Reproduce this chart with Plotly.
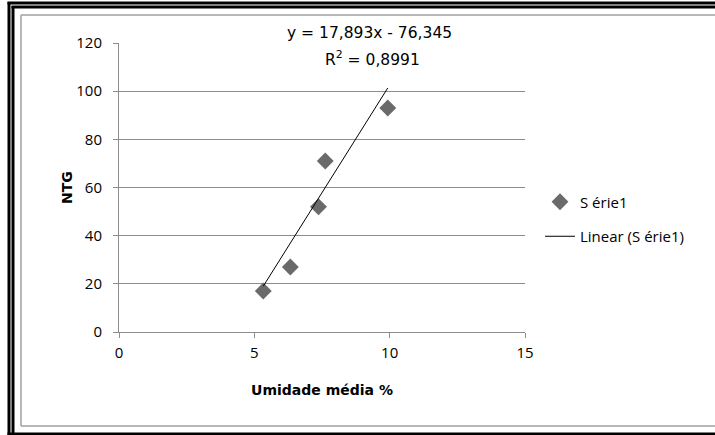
import plotly.graph_objects as go

# Data
umidade = [5.33, 6.33, 7.37, 7.62, 9.93]
ntg = [17, 27, 52, 71, 93]
trend_slope = 17.893
trend_intercept = -76.345
series_name = "S érie1"
trend_name = "Linear (S érie1)"
equation_text = "y = 17,893x - 76,345"
r2_text = "R<sup>2</sup> = 0,8991"
x_ticks = [0, 5, 10, 15]
y_ticks = [0, 20, 40, 60, 80, 100, 120]

W, H = 715, 435
L, R, T, B = 119, 190, 43, 103
PW, PH = W - L - R, H - T - B


def px_x(p):
    return (p - L) / PW


def px_y(p):
    return (H - B - p) / PH


xs = [min(umidade), max(umidade)]
ys = [trend_slope * v + trend_intercept for v in xs]

fig = go.Figure()
fig.add_trace(go.Scatter(
    x=umidade, y=ntg, mode="markers", name=series_name,
    legendgroup="a",
    marker=dict(symbol="diamond", size=13, color="#6a6a6a"),
))
fig.add_trace(go.Scatter(
    x=xs, y=ys, mode="lines", name=trend_name,
    legendgroup="b",
    line=dict(color="black", width=1),
))

gray = "#8c8c8c"
fig.update_xaxes(
    range=[0, 15], tickvals=x_ticks, showgrid=False, zeroline=False,
    showline=True, linecolor=gray, linewidth=1,
    ticks="outside", ticklen=5, tickcolor=gray, ticklabelstandoff=2,
    tickfont=dict(family="Open Sans", size=15, color="black"),
    title=dict(text="<b>Umidade média %</b>", standoff=24,
               font=dict(family="DejaVu Sans", size=14, color="black")),
)
fig.update_yaxes(
    range=[0, 120], tickvals=y_ticks, showgrid=True, gridcolor=gray,
    gridwidth=1, zeroline=False,
    showline=True, linecolor=gray, linewidth=1,
    ticks="outside", ticklen=5, tickcolor=gray, ticklabelstandoff=8,
    tickfont=dict(family="Open Sans", size=15, color="black"),
    title=dict(text="<b>NTG</b>", standoff=0,
               font=dict(family="DejaVu Sans", size=14, color="black")),
)

shapes = []
def hline(y, x0, x1, color, width):
    shapes.append(dict(type="line", xref="paper", yref="paper",
                       x0=px_x(x0), x1=px_x(x1), y0=px_y(y), y1=px_y(y),
                       line=dict(color=color, width=width)))

def vline(x, y0, y1, color, width):
    shapes.append(dict(type="line", xref="paper", yref="paper",
                       x0=px_x(x), x1=px_x(x), y0=px_y(y0), y1=px_y(y1),
                       line=dict(color=color, width=width)))

# outer double black frame
vline(9, 2, 440, "black", 3)
hline(3, 7.5, 720, "black", 3)
vline(13, 6, 435, "black", 3)
hline(7, 11.5, 720, "black", 3)
hline(434, 7.5, 720, "black", 3)
# inner gray frame
vline(21, 15, 426, "#a0a0a0", 1.5)
hline(15, 21, 720, "#a0a0a0", 1.5)
hline(426, 21, 720, "#a0a0a0", 1.5)

fig.update_layout(
    width=W, height=H,
    margin=dict(l=L, r=R, t=T, b=B),
    paper_bgcolor="white", plot_bgcolor="white",
    font=dict(family="Open Sans", size=15, color="black"),
    showlegend=True,
    legend=dict(x=px_x(540), xanchor="left", y=px_y(219), yanchor="middle",
                traceorder="grouped", tracegroupgap=12,
                font=dict(family="Open Sans", size=15, color="black"),
                bgcolor="rgba(0,0,0,0)"),
    shapes=shapes,
    annotations=[
        dict(xref="paper", yref="paper", x=px_x(369), y=px_y(33),
             xanchor="center", yanchor="middle",
             text=equation_text, showarrow=False,
             font=dict(family="DejaVu Sans", size=15.5, color="black")),
        dict(xref="paper", yref="paper", x=px_x(372), y=px_y(58),
             xanchor="center", yanchor="middle",
             text=r2_text, showarrow=False,
             font=dict(family="DejaVu Sans", size=15.5, color="black")),
    ],
)

fig.write_html("out.html",
               config={"displayModeBar": False},
               post_script="document.body.style.margin='0px';"
                           "document.body.style.padding='0px';")
